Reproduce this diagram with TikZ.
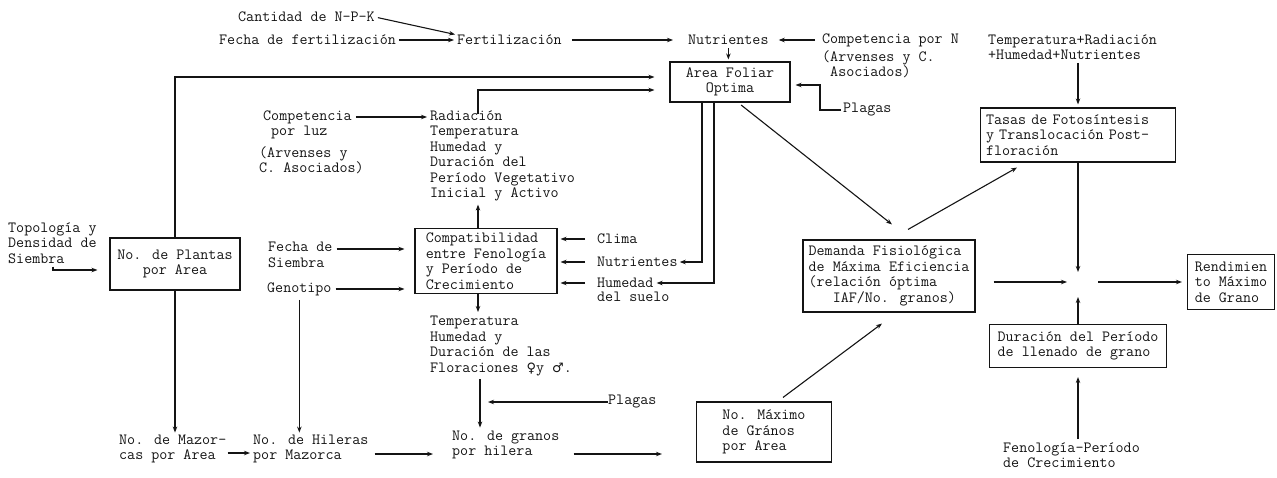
\documentclass[tikz,border=0pt]{standalone}
\usepackage{fontspec}
\newfontfamily\symf{DejaVu Sans}
\usetikzlibrary{arrows.meta,calc}
\definecolor{ink}{HTML}{141414}
\newcommand{\twfont}{\ttfamily\fontsize{15.6}{15.5}\selectfont\addfontfeatures{FakeBold=1.2}}
\begin{document}
\begin{tikzpicture}[x=1pt,y=-1pt,
  every node/.style={font=\twfont, text=ink, inner sep=0pt},
  txt/.style={align=left, anchor=west},
  boxn/.style={draw=ink, line width=1.1pt, inner sep=0pt},
  conn/.style={draw=ink, line width=1.1pt, -{Stealth[length=6pt,width=4.5pt]}}
]
\useasboundingbox (0,0) rectangle (1277,477);

% boxes
\node[boxn, minimum width=120pt, minimum height=40pt, align=center] (area) at (730,82) {Area Foliar\\Optima};
\node[boxn, minimum width=130pt, minimum height=52pt, align=center] (plantas) at (175,264) {No. de Plantas\\por Area};
\node[boxn, minimum width=142pt, minimum height=65pt, align=left] (compat) at (486,261) {Compatibilidad\\entre Fenología\\y Período de\\Crecimiento};
\node[boxn, minimum width=172pt, minimum height=72pt, align=left] (demanda) at (889,276) {Demanda Fisiológica\\de Máxima Eficiencia\\(relación óptima\\\phantom{(re}IAF/No. granos)};
\node[boxn, minimum width=195pt, minimum height=54pt, text width=184pt, align=left] (tasas) at (1078,135) {Tasas de Fotosíntesis\\y Translocación Post-\\floración};
\node[boxn, minimum width=87pt, minimum height=55pt, align=left] (rend) at (1231,282) {Rendimien\\to Máximo\\de Grano};
\node[boxn, minimum width=177pt, minimum height=43pt, align=left] (durac) at (1078,346) {Duración del Período\\de llenado de grano};
\node[boxn, minimum width=135pt, minimum height=60pt, align=left] (maximo) at (764,432) {No. Máximo\\de Grános\\por Area};

% free texts
\node[txt] (cant) at (238,17) {Cantidad de N-P-K};
\node[txt] (fechaf) at (219,40) {Fecha de fertilización};
\node[txt] (fert) at (457,40) {Fertilización};
\node[txt] (nutr) at (688,40) {Nutrientes};
\node[txt] (compN) at (822,40) {Competencia por N};
\node[txt] (compNb) at (822,64) {(Arvenses y C.\\\phantom{(}Asociados)};
\node[txt] (plagasA) at (843,110) {Plagas};
\node[txt] (temprad) at (988,47) {Temperatura+Radiación\\+Humedad+Nutrientes};
\node[txt] (compL1) at (263,117) {Competencia};
\node[txt] (compL2) at (271,132) {por luz};
\node[txt] (arv) at (259,160) {(Arvenses y\\C. Asociados)};
\node[txt] (radiac) at (430,156) {Radiación\\Temperatura\\Humedad y\\Duración del\\Período Vegetativo\\Inicial y Activo};
\node[txt] (topo) at (8,243) {Topología y\\Densidad de\\Siembra};
\node[txt] (fechaS) at (268,255) {Fecha de\\Siembra};
\node[txt] (geno) at (267,289) {Genotipo};
\node[txt] (clima) at (597,239) {Clima};
\node[txt] (nutrB) at (597,262) {Nutrientes};
\node[txt] (hum) at (597,283) {Humedad};
\node[txt] (suelo) at (597,297) {del suelo};
\node[txt] (tempfl) at (430,346) {Temperatura\\Humedad y\\Duración de las\\Floraciones {\symf\fontsize{13}{15}\selectfont ♀}y {\symf\fontsize{13}{15}\selectfont ♂}.};
\node[txt] (plagasB) at (608,402) {Plagas};
\node[txt] (mazor) at (119,449) {No. de Mazor-\\cas por Area};
\node[txt] (hiler) at (253,449) {No. de Hileras\\por Mazorca};
\node[txt] (granos) at (452,445) {No. de granos\\por hilera};
\node[txt] (fenol) at (1003,455) {Fenología-Período\\de Crecimiento};

% connectors (top)
\draw[conn, shorten <=3pt, shorten >=2pt] (cant.east) -- (fert.north west);
\draw[conn, shorten <=3pt, shorten >=3pt] (fechaf.east) -- (fert.west);
\draw[conn, shorten <=10pt, shorten >=15pt] (fert.east) -- (nutr.west);
\draw[conn, shorten <=7pt, shorten >=10pt] (compN.west) -- (nutr.east);
\draw[conn, shorten <=3pt, shorten >=2pt] (nutr.south) -- (nutr.south |- area.north);
\draw[conn, shorten >=15pt] (plantas.north) |- ([yshift=5pt]area.west);
\coordinate (rtop) at ([xshift=48pt,yshift=-4pt]radiac.north west);
\draw[conn, shorten >=15pt] (rtop) |- ([yshift=-8pt]area.west);
\draw[conn, shorten <=2pt, shorten >=5pt] (plagasA.west) -- ++(-23,0) |- ([yshift=-3pt]area.east);
\coordinate (a1) at ([xshift=-28pt]area.south);
\coordinate (a2) at ([xshift=-16pt]area.south);
\draw[conn, shorten >=2pt] (a1) |- (nutrB.east);
\draw[conn, shorten >=3pt] (a2) |- (hum.east);
\draw[conn, shorten <=4pt] ([xshift=8pt]area.south) -- ([xshift=3pt,yshift=15pt]demanda.north);
\draw[conn] ([xshift=19pt,yshift=10pt]demanda.north) -- ([xshift=-61pt,yshift=-5pt]tasas.south);
\draw[conn, shorten <=3pt, shorten >=3pt] (tasas.north |- temprad.south) -- (tasas.north);

% right hub
\coordinate (hub) at (1078,282);
\draw[conn] (tasas.south) -- ([yshift=10pt]hub);
\draw[conn, shorten <=18pt] (demanda.east |- hub) -- ([xshift=-11pt]hub);
\draw[conn] (durac.north) -- ([yshift=-15pt]hub);
\draw[conn, shorten >=5pt] ([xshift=20pt]hub) -- (rend.west |- hub);
\draw[conn, shorten <=3pt, shorten >=9pt] (durac.south |- fenol.north) -- (durac.south);
\draw[conn] ([xshift=19pt,yshift=4pt]maximo.north) -- ([xshift=-7pt,yshift=-11pt]demanda.south);

% left / middle
\draw[conn, shorten <=4pt, shorten >=3pt] (compL1.east) -- (compL1.east -| radiac.west);
\coordinate (tp) at ([xshift=45pt,yshift=-3pt]topo.south west);
\draw[conn, shorten >=12pt] (tp) |- ([yshift=-6pt]plantas.west);
\coordinate (fs) at ([yshift=6pt]fechaS.east);
\draw[conn, shorten <=4pt, shorten >=10pt] (fs) -- (fs -| compat.west);
\draw[conn, shorten <=4pt, shorten >=10pt] (geno.east) -- (geno.east -| compat.west);
\draw[conn, shorten <=4pt, shorten >=2pt] (geno.south) -- (geno.south |- hiler.north);
\draw[conn, shorten >=2pt] (plantas.south) -- (plantas.south |- mazor.north);
\draw[conn, shorten <=1pt, shorten >=3pt] ([yshift=-4pt]mazor.east) -- ([yshift=-4pt]hiler.west);
\coordinate (he) at ([yshift=-5pt]hiler.east);
\draw[conn, shorten <=6pt, shorten >=19pt] (he) -- (he -| granos.west);
\coordinate (ge) at ([yshift=-9pt]granos.east);
\draw[conn, shorten <=14pt, shorten >=34pt] (ge) -- (ge -| maximo.west);
\coordinate (cn) at ([xshift=-8pt]compat.north);
\draw[conn, shorten >=3pt] (cn) -- (cn |- radiac.south);
\coordinate (cs) at ([xshift=-8pt]compat.south);
\draw[conn, shorten >=4pt] (cs) -- (cs |- tempfl.north);
\coordinate (tf) at ([xshift=50pt]tempfl.south west);
\draw[conn, shorten <=3pt, shorten >=3pt] (tf) -- (tf |- granos.north);
\draw[conn, shorten >=8pt] (plagasB.west) -- (plagasB.west -| tf);
\draw[conn, shorten <=12pt, shorten >=3pt] (clima.west) -- (clima.west -| compat.east);
\draw[conn, shorten <=12pt, shorten >=3pt] (nutrB.west) -- (nutrB.west -| compat.east);
\draw[conn, shorten <=12pt, shorten >=3pt] (hum.west) -- (hum.west -| compat.east);
\end{tikzpicture}
\end{document}
